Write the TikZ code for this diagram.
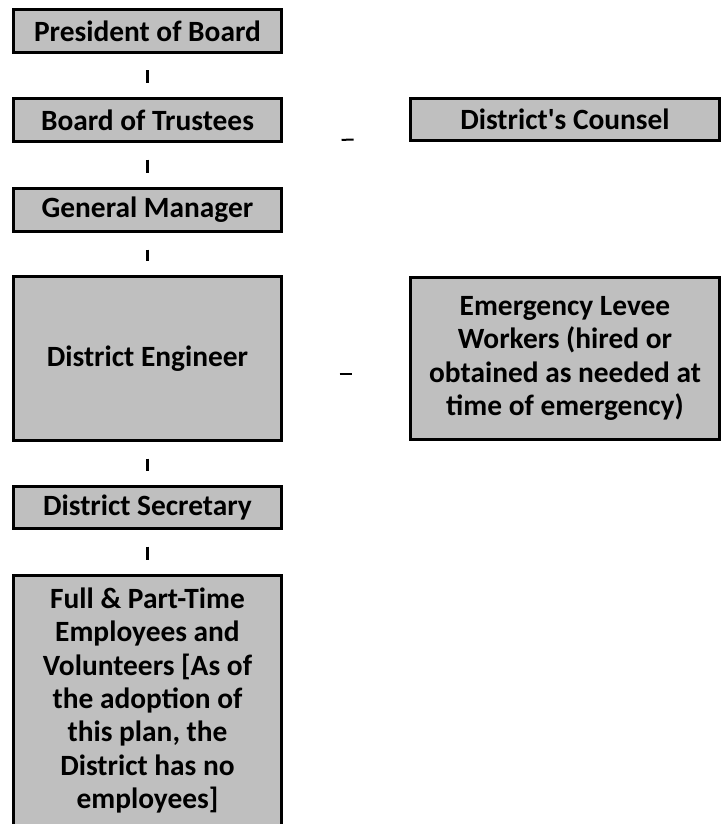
\documentclass[tikz,border=0pt]{standalone}
\usepackage{fontspec}
\setmainfont{Carlito}
\definecolor{boxgray}{RGB}{191,191,191}
\begin{document}
\begin{tikzpicture}[x=1pt,y=-1pt,
  orgbox/.style={draw=black, line width=3pt, fill=boxgray, rectangle,
    inner sep=0pt, align=center, font=\fontsize{29.4}{33.3}\selectfont\bfseries},
  vbar/.style={line width=3pt, shorten <=16.5pt, shorten >=14pt},
  hdash/.style={line width=2pt}]
\useasboundingbox (0,0) rectangle (723,824);
\node[orgbox, minimum width=268pt, minimum height=43pt] (pres) at (147.5,31) {President of Board};
\node[orgbox, minimum width=268pt, minimum height=43pt] (board) at (147.5,120) {Board of Trustees};
\node[orgbox, minimum width=268pt, minimum height=43pt] (gm) at (147.5,210) {General Manager};
\node[orgbox, minimum width=268pt, minimum height=164pt] (de) at (147.5,358.5) {District Engineer};
\node[orgbox, minimum width=268pt, minimum height=250pt] (staff) at (147.5,700.5)
  {Full \& Part-Time\\Employees and\\Volunteers [As of\\the adoption of\\this plan, the\\District has no\\employees]};
\node[orgbox, minimum width=268pt, minimum height=42pt] (sec) at (147.5,507.5) {District Secretary};
\node[orgbox, minimum width=309pt, minimum height=42pt] (counsel) at (565,119.5) {District\textquotesingle s Counsel};
\node[orgbox, minimum width=309pt, minimum height=162pt] (elw) at (565,358.5)
  {Emergency Levee\\Workers (hired or\\obtained as needed at\\time of emergency)};
\draw[vbar] (pres.south) -- (board.north);
\draw[vbar] (board.south) -- (gm.north);
\draw[vbar] (gm.south) -- (de.north);
\draw[vbar] (de.south) -- (sec.north);
\draw[vbar] (sec.south) -- (staff.north);
\draw[hdash, shorten <=58.5pt, shorten >=55.5pt] ([yshift=-20pt]board.east) -- ([yshift=-20pt]counsel.west);
\draw[hdash, shorten <=56.5pt, shorten >=57.5pt] ([yshift=-15pt]de.east) -- ([yshift=-15pt]elw.west);
\end{tikzpicture}
\end{document}
